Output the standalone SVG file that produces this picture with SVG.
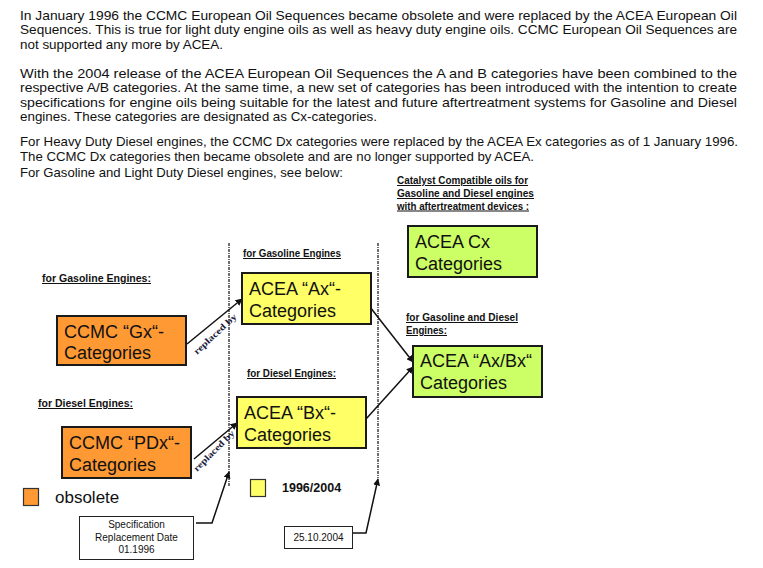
<svg xmlns="http://www.w3.org/2000/svg" width="763" height="568" viewBox="0 0 763 568">
<style>
.p{font-family:"Liberation Sans",Arial,sans-serif;font-size:13px;fill:#111}
.lbl{font-family:"Liberation Sans",Arial,sans-serif;font-size:10px;font-weight:bold;fill:#111;text-decoration:underline}
.box{stroke:#1a1a1a;stroke-width:2}
.bt{font-family:"Liberation Sans",Arial,sans-serif;font-size:18px;fill:#111}
.or{fill:#FF9933}.ye{fill:#FFFF66}.gr{fill:#CCFF66}
.small{font-family:"Liberation Sans",Arial,sans-serif;font-size:10px;fill:#111}
.rep{font-family:"Liberation Serif","Times New Roman",serif;font-size:9px;font-weight:bold;fill:#1a1a3a}
.con{stroke:#111;stroke-width:1.5;fill:none}
.dash{stroke:#222;stroke-width:1.3;stroke-dasharray:3 1 1 1;fill:none}
</style>
<defs>
<marker id="ah" viewBox="0 0 10 10" refX="9" refY="5" markerWidth="7" markerHeight="7" orient="auto" markerUnits="userSpaceOnUse">
<path d="M0,0 L10,5 L0,10 z" fill="#111"/>
</marker>
</defs>
<rect width="763" height="568" fill="#fff"/>
<g id="intro">
<text class="p" x="20" y="19.5" textLength="717" lengthAdjust="spacingAndGlyphs">In January 1996 the CCMC European Oil Sequences became obsolete and were replaced by the ACEA European Oil</text>
<text class="p" x="20" y="34" textLength="717" lengthAdjust="spacingAndGlyphs">Sequences. This is true for light duty engine oils as well as heavy duty engine oils. CCMC European Oil Sequences are</text>
<text class="p" x="20" y="48.5" textLength="203" lengthAdjust="spacingAndGlyphs">not supported any more by ACEA.</text>
<text class="p" x="20" y="77.5" textLength="717" lengthAdjust="spacingAndGlyphs">With the 2004 release of the ACEA European Oil Sequences the A and B categories have been combined to the</text>
<text class="p" x="20" y="92" textLength="717" lengthAdjust="spacingAndGlyphs">respective A/B categories. At the same time, a new set of categories has been introduced with the intention to create</text>
<text class="p" x="20" y="106.5" textLength="717" lengthAdjust="spacingAndGlyphs">specifications for engine oils being suitable for the latest and future aftertreatment systems for Gasoline and Diesel</text>
<text class="p" x="20" y="121" textLength="357" lengthAdjust="spacingAndGlyphs">engines. These categories are designated as Cx-categories.</text>
<text class="p" x="20" y="145.5" textLength="718" lengthAdjust="spacingAndGlyphs">For Heavy Duty Diesel engines, the CCMC Dx categories were replaced by the ACEA Ex categories as of 1 January 1996.</text>
<text class="p" x="20" y="161" textLength="514" lengthAdjust="spacingAndGlyphs">The CCMC Dx categories then became obsolete and are no longer supported by ACEA.</text>
<text class="p" x="20" y="176.5" textLength="323" lengthAdjust="spacingAndGlyphs">For Gasoline and Light Duty Diesel engines, see below:</text>
</g>
<g id="labels">
<text class="lbl" x="397" y="184" textLength="131" lengthAdjust="spacingAndGlyphs">Catalyst Compatible oils  for</text>
<text class="lbl" x="397" y="197" textLength="137" lengthAdjust="spacingAndGlyphs">Gasoline  and Diesel engines</text>
<text class="lbl" x="397" y="209.5" textLength="132" lengthAdjust="spacingAndGlyphs">with aftertreatment devices :</text>
<text class="lbl" x="243" y="257" textLength="98" lengthAdjust="spacingAndGlyphs">for Gasoline Engines</text>
<text class="lbl" x="42" y="282" textLength="109" lengthAdjust="spacingAndGlyphs">for Gasoline Engines:</text>
<text class="lbl" x="406" y="321" textLength="112" lengthAdjust="spacingAndGlyphs">for Gasoline  and Diesel</text>
<text class="lbl" x="406" y="334" textLength="41" lengthAdjust="spacingAndGlyphs">Engines:</text>
<text class="lbl" x="247" y="377" textLength="89" lengthAdjust="spacingAndGlyphs">for Diesel Engines:</text>
<text class="lbl" x="38" y="407" textLength="95" lengthAdjust="spacingAndGlyphs">for Diesel Engines:</text>
</g>
<g id="connectors">
<line class="dash" x1="229" y1="243" x2="229" y2="486"/>
<line class="dash" x1="378" y1="243" x2="378" y2="478"/>
<line class="con" x1="187" y1="344" x2="242" y2="299" marker-end="url(#ah)"/>
<line class="con" x1="194" y1="459" x2="237" y2="423" marker-end="url(#ah)"/>
<line class="con" x1="370" y1="307" x2="413" y2="362" marker-end="url(#ah)"/>
<line class="con" x1="366" y1="419" x2="413" y2="367" marker-end="url(#ah)"/>
<polyline class="con" points="196,523 212,523 229,472" marker-end="url(#ah)"/>
<polyline class="con" points="353,533 366,533 378,479" marker-end="url(#ah)"/>
<text class="rep" transform="translate(197,355) rotate(-43)" textLength="55" lengthAdjust="spacingAndGlyphs">replaced by</text>
<text class="rep" transform="translate(197,472) rotate(-45)" textLength="54" lengthAdjust="spacingAndGlyphs">replaced by</text>
</g>
<g id="gx">
<rect class="box or" x="57" y="316" width="129" height="49"/>
<text class="bt" x="64" y="338">CCMC “Gx“-</text>
<text class="bt" x="64" y="359">Categories</text>
</g>
<g id="pdx">
<rect class="box or" x="62" y="427" width="129" height="51"/>
<text class="bt" x="69" y="449">CCMC “PDx“-</text>
<text class="bt" x="69" y="471">Categories</text>
</g>
<g id="ax">
<rect class="box ye" x="242" y="273" width="129" height="51"/>
<text class="bt" x="249" y="295">ACEA “Ax“-</text>
<text class="bt" x="249" y="317">Categories</text>
</g>
<g id="bx">
<rect class="box ye" x="237" y="397" width="129" height="51"/>
<text class="bt" x="244" y="419">ACEA “Bx“-</text>
<text class="bt" x="244" y="441">Categories</text>
</g>
<g id="cx">
<rect class="box gr" x="408" y="226" width="129" height="51"/>
<text class="bt" x="415" y="248">ACEA Cx</text>
<text class="bt" x="415" y="270">Categories</text>
</g>
<g id="axbx">
<rect class="box gr" x="413" y="346" width="129" height="51"/>
<text class="bt" x="420" y="367">ACEA “Ax/Bx“</text>
<text class="bt" x="420" y="389">Categories</text>
</g>
<g id="legend-obsolete">
<rect x="23.5" y="488.5" width="15" height="17" class="or" stroke="#333" stroke-width="1.2"/>
<text x="55" y="503" font-family="Liberation Sans, Arial, sans-serif" font-size="17" fill="#111">obsolete</text>
</g>
<g id="legend-1996">
<rect x="250.5" y="479.5" width="15" height="17" class="ye" stroke="#333" stroke-width="1.2"/>
<text x="282" y="492" font-family="Liberation Sans, Arial, sans-serif" font-size="12.5" font-weight="bold" fill="#111">1996/2004</text>
</g>
<g id="spec-date">
<rect x="79.5" y="516.5" width="114" height="43" fill="#fff" stroke="#222" stroke-width="1"/>
<text class="small" x="136.5" y="528" text-anchor="middle">Specification</text>
<text class="small" x="136.5" y="541" text-anchor="middle">Replacement Date</text>
<text class="small" x="136.5" y="553" text-anchor="middle">01.1996</text>
</g>
<g id="date2004">
<rect x="284.5" y="526.5" width="68" height="22" fill="#fff" stroke="#222" stroke-width="1"/>
<text class="small" x="318.5" y="541" text-anchor="middle">25.10.2004</text>
</g>
</svg>
